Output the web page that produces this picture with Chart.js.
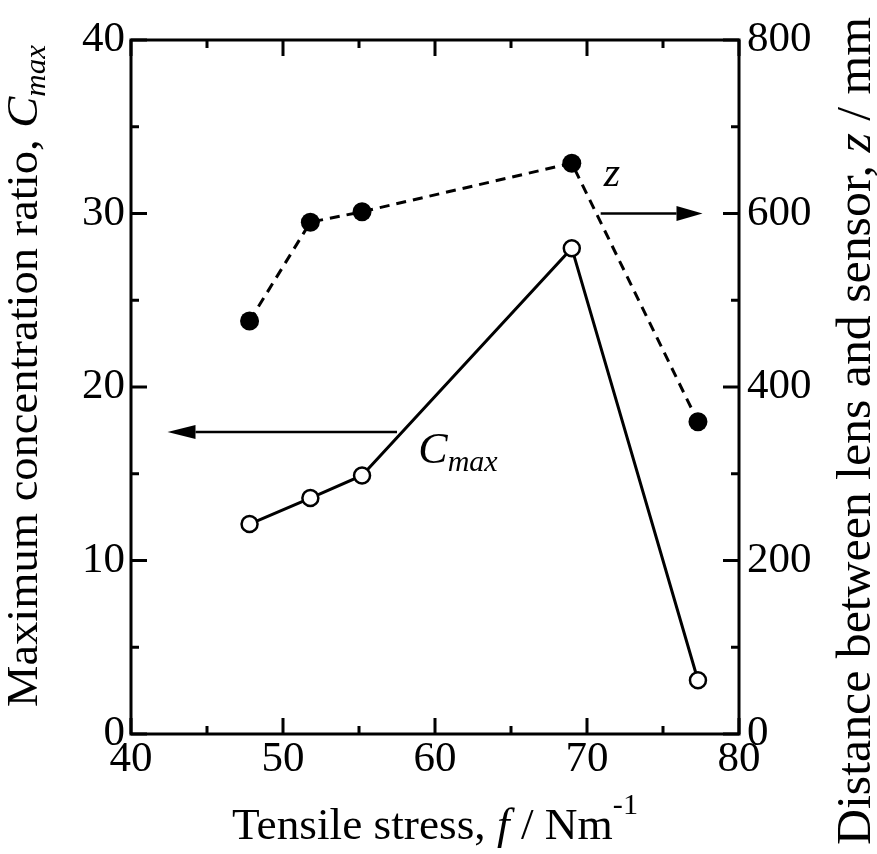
<!DOCTYPE html>
<html>
<head>
<meta charset="utf-8">
<script src="https://cdn.jsdelivr.net/npm/chart.js@4.4.0/dist/chart.umd.min.js"></script>
<style>
body { margin: 0; background: #fff; }
#wrap { width: 877px; height: 854px; }
</style>
</head>
<body>
<div id="wrap"><canvas id="chart" width="877" height="854"></canvas></div>
<script>
// tensile stress f (N/m) and the two measured quantities
const stress = [47.8, 51.8, 55.2, 69.0, 77.3];
const cmaxRatio = [12.1, 13.6, 14.9, 28.0, 3.1];
const lensDistance = [476, 590, 602, 658, 360];

const xTicks = [40, 50, 60, 70, 80];
const leftTicks = [0, 10, 20, 30, 40];
const rightTicks = [0, 200, 400, 600, 800];

const SERIF = "'Liberation Serif', 'Times New Roman', serif";

// midpoints between major ticks -> minor tick values
function withMinors(majors) {
    let out = [];
    majors.forEach((v, i) => {
        out.push({ v: v, major: true });
        if (i < majors.length - 1) out.push({ v: (v + majors[i + 1]) / 2, major: false });
    });
    return out;
}

// text made of several styled pieces, stretched so it spans `length` px
function richText(ctx, parts, x, y, angle, length) {
    ctx.save();
    let total = 0;
    parts.forEach(p => { ctx.font = p.font; total += ctx.measureText(p.text).width; });
    ctx.translate(x, y);
    ctx.rotate(angle);
    ctx.scale(length ? length / total : 1, 1);
    ctx.fillStyle = "#000";
    ctx.textBaseline = "alphabetic";
    ctx.textAlign = "left";
    let cx = 0;
    parts.forEach(p => {
        ctx.font = p.font;
        ctx.fillText(p.text, cx, p.dy || 0);
        cx += ctx.measureText(p.text).width;
    });
    ctx.restore();
}

function arrow(ctx, xFrom, xTo, y, head, half) {
    let dir = xTo > xFrom ? 1 : -1;
    ctx.beginPath();
    ctx.moveTo(xFrom, y);
    ctx.lineTo(xTo - dir * head, y);
    ctx.stroke();
    ctx.beginPath();
    ctx.moveTo(xTo, y);
    ctx.lineTo(xTo - dir * head, y - half);
    ctx.lineTo(xTo - dir * head, y + half);
    ctx.closePath();
    ctx.fill();
}

const framePlugin = {
    id: "frame",
    afterDraw(chart) {
        const ctx = chart.ctx;
        const a = chart.chartArea;
        const sx = chart.scales.x, sy = chart.scales.y, sz = chart.scales.y2;
        ctx.save();
        ctx.strokeStyle = "#000";
        ctx.fillStyle = "#000";
        ctx.lineWidth = 3;
        ctx.lineCap = "butt";

        // inward tick marks, bottom + top
        withMinors(xTicks).forEach(t => {
            let px = sx.getPixelForValue(t.v), len = t.major ? 16 : 8;
            ctx.beginPath();
            ctx.moveTo(px, a.bottom); ctx.lineTo(px, a.bottom - len);
            ctx.moveTo(px, a.top); ctx.lineTo(px, a.top + len);
            ctx.stroke();
        });
        withMinors(leftTicks).forEach(t => {
            let py = sy.getPixelForValue(t.v), len = t.major ? 16 : 8;
            ctx.beginPath();
            ctx.moveTo(a.left, py); ctx.lineTo(a.left + len, py);
            ctx.stroke();
        });
        withMinors(rightTicks).forEach(t => {
            let py = sz.getPixelForValue(t.v), len = t.major ? 16 : 8;
            ctx.beginPath();
            ctx.moveTo(a.right, py); ctx.lineTo(a.right - len, py);
            ctx.stroke();
        });

        ctx.lineJoin = "miter";
        ctx.strokeRect(a.left, a.top, a.right - a.left, a.bottom - a.top);

        // arrows pointing to each curve's axis
        ctx.lineWidth = 2.5;
        arrow(ctx, sx.getPixelForValue(57.5), sx.getPixelForValue(42.4), sy.getPixelForValue(17.4), 28, 7);
        arrow(ctx, sx.getPixelForValue(70.9), sx.getPixelForValue(77.6), sz.getPixelForValue(600), 26, 7.5);

        // curve labels
        richText(ctx, [
            { text: "C", font: "italic 44px " + SERIF },
            { text: "max", font: "italic 30px " + SERIF, dy: 8 }
        ], sx.getPixelForValue(58.9), sy.getPixelForValue(15.6), 0);
        richText(ctx, [
            { text: "z", font: "italic 42px " + SERIF }
        ], sx.getPixelForValue(71.1), sz.getPixelForValue(632), 0);

        // axis titles
        richText(ctx, [
            { text: "Tensile stress, ", font: "45px " + SERIF },
            { text: "f", font: "italic 45px " + SERIF },
            { text: " / Nm", font: "45px " + SERIF },
            { text: "-1", font: "30px " + SERIF, dy: -25 }
        ], 232, 839, 0, 406);
        richText(ctx, [
            { text: "Maximum concentration ratio, ", font: "45px " + SERIF },
            { text: "C", font: "italic 45px " + SERIF },
            { text: "max", font: "italic 30px " + SERIF, dy: 8 }
        ], 37, 707, -Math.PI / 2, 662);
        richText(ctx, [
            { text: "Distance between lens and sensor, ", font: "49px " + SERIF },
            { text: "z", font: "italic 49px " + SERIF },
            { text: " / mm", font: "49px " + SERIF }
        ], 870, 845, -Math.PI / 2, 828);
        ctx.restore();
    }
};

function tickFont() {
    return { family: SERIF, size: 43 };
}

let ctx = document.getElementById("chart").getContext("2d");
new Chart(ctx, {
    type: "scatter",
    data: {
        datasets: [{
            label: "Cmax",
            data: stress.map((x, i) => ({ x: x, y: cmaxRatio[i] })),
            yAxisID: "y",
            showLine: true,
            borderColor: "#000",
            borderWidth: 3,
            pointRadius: 8,
            pointBorderWidth: 2.5,
            pointBorderColor: "#000",
            pointBackgroundColor: "#fff"
        }, {
            label: "z",
            data: stress.map((x, i) => ({ x: x, y: lensDistance[i] })),
            yAxisID: "y2",
            showLine: true,
            borderColor: "#000",
            borderWidth: 3,
            borderDash: [10, 7],
            pointRadius: 9.5,
            pointBorderWidth: 0,
            pointBorderColor: "#000",
            pointBackgroundColor: "#000"
        }]
    },
    options: {
        responsive: false,
        animation: false,
        layout: { padding: { top: 40, left: 0, right: 0, bottom: 0 } },
        plugins: {
            legend: { display: false },
            tooltip: { enabled: false }
        },
        scales: {
            x: {
                type: "linear",
                min: 40, max: 80,
                afterBuildTicks: s => { s.ticks = xTicks.map(v => ({ value: v })); },
                afterFit: s => { s.height = 120; },
                grid: { display: false, drawTicks: false },
                border: { display: false },
                ticks: { color: "#000", font: tickFont(), padding: 0, maxRotation: 0, autoSkip: false }
            },
            y: {
                type: "linear",
                position: "left",
                min: 0, max: 40,
                afterBuildTicks: s => { s.ticks = leftTicks.map(v => ({ value: v })); },
                afterFit: s => { s.width = 131; },
                grid: { display: false, drawTicks: false },
                border: { display: false },
                ticks: { color: "#000", font: tickFont(), padding: 6, autoSkip: false }
            },
            y2: {
                type: "linear",
                position: "right",
                min: 0, max: 800,
                afterBuildTicks: s => { s.ticks = rightTicks.map(v => ({ value: v })); },
                afterFit: s => { s.width = 138; },
                grid: { display: false, drawTicks: false },
                border: { display: false },
                ticks: { color: "#000", font: tickFont(), padding: 8, autoSkip: false }
            }
        }
    },
    plugins: [framePlugin]
});
</script>
</body>
</html>
